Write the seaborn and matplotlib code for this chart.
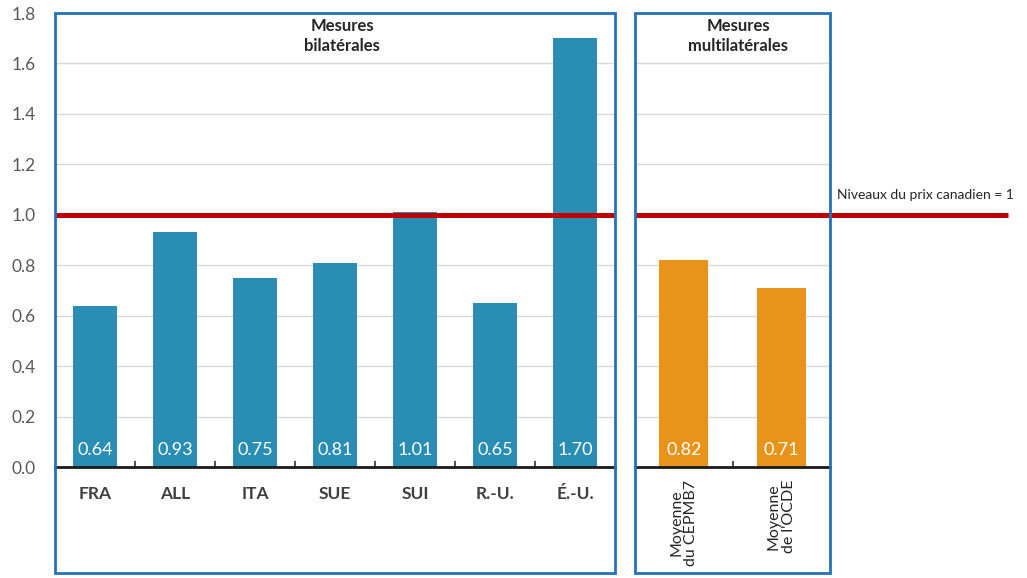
import matplotlib.pyplot as plt
import seaborn as sns
import pandas as pd
from matplotlib.patches import Rectangle

bilateral_labels = ["FRA", "ALL", "ITA", "SUE", "SUI", "R.-U.", "É.-U."]
bilateral_values = [0.64, 0.93, 0.75, 0.81, 1.01, 0.65, 1.70]
multilateral_labels = ["Moyenne\ndu CEPMB7", "Moyenne\nde l'OCDE"]
multilateral_values = [0.82, 0.71]
reference_level = 1.0
yticks = [0.0, 0.2, 0.4, 0.6, 0.8, 1.0, 1.2, 1.4, 1.6, 1.8]

BLUE = "#2A8DB3"
ORANGE = "#E8941A"
RED = "#C00000"
FRAME = "#2472B8"
GRID = "#D9D9D9"
TEXT = "#404040"

sns.set_style("white")
plt.rcParams["font.family"] = ["Lato", "DejaVu Sans"]

W, H = 1027, 578
fig = plt.figure(figsize=(W / 100, H / 100), dpi=100)

def fx(px):
    return px / W

def fy(py):
    return 1 - py / H

y0, y1 = 467, 13
ax1 = fig.add_axes([fx(55), fy(y0), fx(560), (y0 - y1) / H])
ax2 = fig.add_axes([fx(635), fy(y0), fx(195), (y0 - y1) / H])

df_bi = pd.DataFrame({"pays": bilateral_labels, "valeur": bilateral_values})
df_mu = pd.DataFrame({"mesure": multilateral_labels, "valeur": multilateral_values})

sns.barplot(data=df_bi, x="pays", y="valeur", color=BLUE, width=0.55,
            saturation=1, ax=ax1, zorder=2, linewidth=0, edgecolor="none")
sns.barplot(data=df_mu, x="mesure", y="valeur", color=ORANGE, width=0.5,
            saturation=1, ax=ax2, zorder=2, linewidth=0, edgecolor="none")

for ax, vals in ((ax1, bilateral_values), (ax2, multilateral_values)):
    n = len(vals)
    ax.set_xlim(-0.5, n - 0.5)
    ax.set_ylim(0, 1.8)
    ax.set_yticks(yticks)
    ax.yaxis.grid(True, color=GRID, lw=1, zorder=0)
    ax.set_axisbelow(True)
    for s in ("top", "left", "right"):
        ax.spines[s].set_visible(False)
    ax.spines["bottom"].set_color("#1A1A1A")
    ax.spines["bottom"].set_linewidth(2)
    ax.spines["bottom"].set_zorder(3)
    ax.set_xlabel("")
    ax.set_ylabel("")
    ax.tick_params(axis="x", length=0, pad=14)
    # small separators between categories, pointing up from the baseline
    ax.vlines([i + 0.5 for i in range(n - 1)], 0, 0.025, color="#404040",
              lw=1.3, zorder=3)
    for i, v in enumerate(vals):
        ax.text(i, 0.068, f"{v:.2f}", ha="center", va="center",
                color="white", fontsize=13, zorder=4)

ax1.tick_params(axis="y", length=0, pad=14, labelsize=12.5, labelcolor="#595959")
ax1.set_yticklabels([f"{t:.1f}" for t in yticks])
ax2.tick_params(axis="y", length=0, labelleft=False)

ax1.set_xticks(range(len(bilateral_labels)))
ax1.set_xticklabels(bilateral_labels, fontweight="bold", fontsize=12.5, color=TEXT)
ax2.set_xticks(range(len(multilateral_labels)))
ax2.set_xticklabels(multilateral_labels, rotation=90, fontsize=11.5, color="#262626",
                    ha="center", va="top", multialignment="center", linespacing=1.1)
ax2.tick_params(axis="x", pad=9)

# reference line at canadian price level
ax1.axhline(reference_level, color=RED, lw=3.6, zorder=3, solid_capstyle="butt")
ax2.axhline(reference_level, xmin=0, xmax=(1008 - 635) / 195, color=RED, lw=3.6,
            zorder=3, clip_on=False, solid_capstyle="butt")
fig.text(fx(837), fy(195), "Niveaux du prix canadien = 1", ha="left", va="center",
         fontsize=10, color="#262626")

ax1.text((342 - 55) / 560, 1.71, "Mesures\nbilatérales", transform=ax1.get_yaxis_transform(),
         ha="center", va="center", fontweight="bold", fontsize=12, color="#262626",
         linespacing=1.3)
ax2.text((738 - 635) / 195, 1.71, "Mesures\nmultilatérales", transform=ax2.get_yaxis_transform(),
         ha="center", va="center", fontweight="bold", fontsize=12, color="#262626",
         linespacing=1.3)

# group frames
for left, right in ((55, 615), (635, 830)):
    fig.patches.append(Rectangle((fx(left), fy(573)), fx(right - left), (573 - 13) / H,
                                 transform=fig.transFigure, fill=False,
                                 edgecolor=FRAME, lw=2, zorder=5))

fig.savefig("out.png", dpi=100)
